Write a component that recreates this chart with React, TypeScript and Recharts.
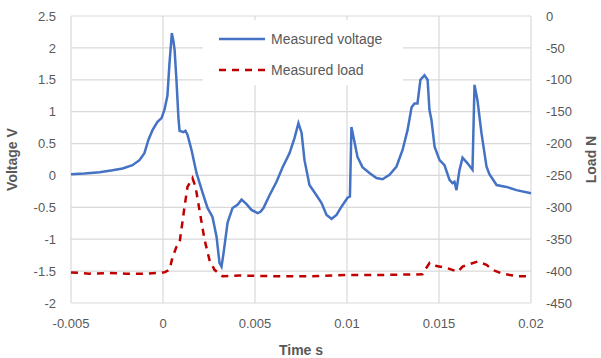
import { CartesianGrid, ComposedChart, Legend, Line, XAxis, YAxis } from "recharts";

// measured voltage trace (time s, volts)
const timeV = [
  -0.005, -0.00427, -0.00345, -0.00274, -0.0022, -0.00166, -0.00128, -0.00101, -0.00079, -0.00057,
  -0.0003, -0.00008, 0.00008, 0.00024, 0.00035, 0.00048, 0.00057, 0.00063, 0.00073, 0.00084,
  0.0009, 0.00111, 0.00122, 0.00133, 0.00155, 0.00182, 0.00215, 0.00242, 0.00269, 0.00291,
  0.00307, 0.00318, 0.00329, 0.00351, 0.00378, 0.00405, 0.00427, 0.00454, 0.00481, 0.00514,
  0.0053, 0.00546, 0.00579, 0.00617, 0.00649, 0.00688, 0.00715, 0.00736, 0.00753, 0.00769,
  0.00796, 0.00834, 0.00861, 0.00889, 0.00916, 0.00943, 0.0097, 0.01003, 0.01016, 0.01024,
  0.01041, 0.01057, 0.01084, 0.01122, 0.0116, 0.01193, 0.01231, 0.01269, 0.01302, 0.01329,
  0.01351, 0.01367, 0.01383, 0.01399, 0.01421, 0.01438, 0.01448, 0.01459, 0.01476, 0.01503,
  0.0153, 0.01557, 0.01573, 0.01584, 0.01595, 0.01611, 0.01628, 0.01655, 0.01682, 0.01693,
  0.01709, 0.01731, 0.01758, 0.01774, 0.01813, 0.01867, 0.01921, 0.02,
];
const voltage = [
  0.02, 0.03, 0.05, 0.08, 0.11, 0.16, 0.24, 0.35, 0.56, 0.71,
  0.84, 0.9, 1.03, 1.25, 1.75, 2.23, 2.1, 1.97, 1.5, 0.9,
  0.7, 0.68, 0.7, 0.64, 0.4, 0.04, -0.27, -0.51, -0.65, -0.96,
  -1.37, -1.43, -1.22, -0.74, -0.51, -0.46, -0.38, -0.45, -0.54, -0.59,
  -0.57, -0.51, -0.31, -0.1, 0.12, 0.35, 0.59, 0.82, 0.67, 0.24,
  -0.15, -0.31, -0.43, -0.62, -0.68, -0.62, -0.49, -0.35, -0.33, 0.76,
  0.52, 0.29, 0.13, 0.04, -0.04, -0.06, 0.01, 0.14, 0.4, 0.71,
  1.07, 1.13, 1.13, 1.5, 1.57, 1.5, 1.03, 0.87, 0.45, 0.24,
  0.16, -0.07, -0.12, -0.1, -0.23, 0.08, 0.28, 0.19, 0.09, 1.42,
  1.18, 0.66, 0.14, 0.02, -0.15, -0.18, -0.23, -0.28,
];

// measured load trace (time s, newtons)
const timeL = [
  -0.005, -0.004, -0.003, -0.002, -0.001, 0.00008, 0.00035, 0.00052, 0.00073, 0.0009,
  0.00117, 0.00133, 0.0016, 0.00177, 0.00198, 0.00226, 0.00253, 0.0028, 0.00323, 0.00416,
  0.006, 0.008, 0.01, 0.012, 0.0141, 0.01427, 0.01449, 0.01486, 0.01541, 0.01601,
  0.01628, 0.01677, 0.01709, 0.01758, 0.0179, 0.01845, 0.01921, 0.02,
];
const load = [
  -402, -404, -403, -404, -404, -402, -398, -378, -362, -356,
  -299, -268, -254, -268, -304, -351, -383, -398, -408, -407,
  -408, -408, -406, -406, -405, -397, -387, -392, -395, -401,
  -393, -388, -385, -390, -398, -404, -408, -408,
];

const xTicks = [-0.005, 0, 0.005, 0.01, 0.015, 0.02];
const voltTicks = [-2, -1.5, -1, -0.5, 0, 0.5, 1, 1.5, 2, 2.5];
const loadTicks = [-450, -400, -350, -300, -250, -200, -150, -100, -50, 0];

const rows = [
  ...timeV.map((t, i) => ({ t, voltage: voltage[i] })),
  ...timeL.map((t, i) => ({ t, load: load[i] })),
].sort((a, b) => a.t - b.t);

const GREY = "#595959";
const BLUE = "#4472C4";
const RED = "#C00000";
const tick = { fill: GREY, fontSize: 13 };

function AxisTitle({ viewBox, text, dx, rotate }: any) {
  const vb = viewBox ?? { x: 0, y: 0, width: 0, height: 0 };
  const x = rotate ? vb.x + dx : vb.x + vb.width / 2;
  const y = rotate ? vb.y + vb.height / 2 : vb.y + dx;
  return (
    <text
      x={x}
      y={y}
      fill={GREY}
      fontSize={14}
      fontWeight="bold"
      textAnchor="middle"
      dominantBaseline="central"
      transform={rotate ? `rotate(-90 ${x} ${y})` : undefined}
    >
      {text}
    </text>
  );
}

function LegendBox() {
  const item = (label: string, color: string, dash?: string) => (
    <div style={{ display: "flex", alignItems: "center", height: 31 }}>
      <svg width={62} height={10}>
        <line x1={16} x2={62} y1={5} y2={5} stroke={color} strokeWidth={2.5} strokeDasharray={dash} />
      </svg>
      <span style={{ marginLeft: 6, color: GREY, fontSize: 14 }}>{label}</span>
    </div>
  );
  return (
    <div style={{ background: "#fff", width: 200, height: 65, paddingTop: 3, boxSizing: "border-box" }}>
      {item("Measured voltage", BLUE)}
      {item("Measured load", RED, "7 6")}
    </div>
  );
}

export default function App() {
  return (
    <div style={{ fontFamily: "'Liberation Sans', Arial, sans-serif" }}>
      <style>{"body{margin:0}"}</style>
      <ComposedChart width={601} height={358} data={rows} margin={{ top: 16, right: 0, bottom: 0, left: 0 }}>
        <CartesianGrid yAxisId="left" stroke="#d9d9d9" strokeWidth={1.2} />
        <XAxis
          dataKey="t"
          type="number"
          domain={[-0.005, 0.02]}
          ticks={xTicks}
          tick={tick}
          tickLine={false}
          axisLine={false}
          tickMargin={10}
          height={55}
          label={{ content: (p: any) => <AxisTitle viewBox={p.viewBox} text="Time s" dx={47} /> }}
        />
        <YAxis
          yAxisId="left"
          domain={[-2, 2.5]}
          ticks={voltTicks}
          tick={tick}
          tickLine={false}
          axisLine={false}
          tickMargin={9}
          width={71}
          label={{ content: (p: any) => <AxisTitle viewBox={p.viewBox} text="Voltage V" dx={12} rotate /> }}
        />
        <YAxis
          yAxisId="right"
          orientation="right"
          domain={[-450, 0]}
          ticks={loadTicks}
          tick={{ ...tick, textAnchor: "start" }}
          tickLine={false}
          axisLine={false}
          tickMargin={9}
          width={70}
          label={{ content: (p: any) => <AxisTitle viewBox={p.viewBox} text="Load N" dx={60} rotate /> }}
        />
        <Legend
          layout="vertical"
          align="center"
          verticalAlign="middle"
          content={() => <LegendBox />}
          wrapperStyle={{ left: 203, top: 20, width: 200, height: 65 }}
        />
        <Line
          yAxisId="right"
          dataKey="load"
          name="Measured load"
          stroke={RED}
          strokeWidth={2.5}
          strokeDasharray="7 6"
          dot={false}
          connectNulls
          isAnimationActive={false}
        />
        <Line
          yAxisId="left"
          dataKey="voltage"
          name="Measured voltage"
          stroke={BLUE}
          strokeWidth={2.5}
          dot={false}
          connectNulls
          isAnimationActive={false}
        />
      </ComposedChart>
    </div>
  );
}
